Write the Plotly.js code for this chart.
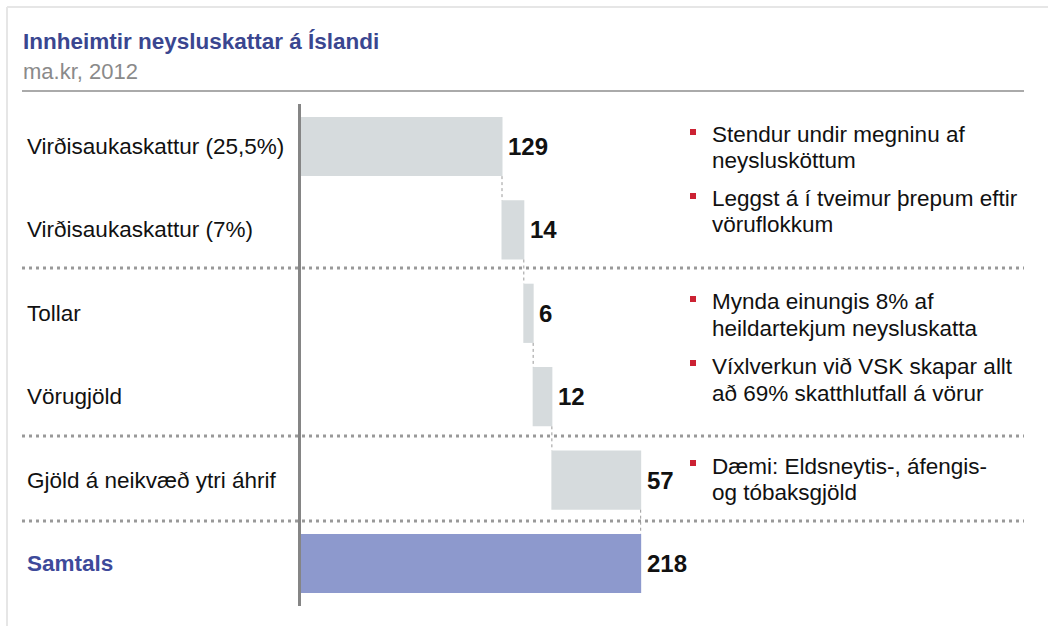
<!DOCTYPE html>
<html>
<head>
<meta charset="utf-8">
<script src="https://cdn.plot.ly/plotly-3.0.1.min.js"></script>
<style>
html,body{margin:0;padding:0;background:#fff;}
#chart{width:1048px;height:626px;}
</style>
</head>
<body>
<div id="chart"></div>
<script>
// ---- data ----
const categories = ["Virðisaukaskattur (25,5%)", "Virðisaukaskattur (7%)", "Tollar", "Vörugjöld", "Gjöld á neikvæð ytri áhrif", "Samtals"];
const values = [129, 14, 6, 12, 57, 218];
const measures = ["relative", "relative", "relative", "relative", "relative", "total"];
const titleText = "Innheimtir neysluskattar á Íslandi";
const subtitleText = "ma.kr, 2012";
const bulletTexts = [
  ["Stendur undir megninu af", "neyslusköttum"],
  ["Leggst á í tveimur þrepum eftir", "vöruflokkum"],
  ["Mynda einungis 8% af", "heildartekjum neysluskatta"],
  ["Víxlverkun við VSK skapar allt", "að 69% skatthlutfall á vörur"],
  ["Dæmi: Eldsneytis-, áfengis-", "og tóbaksgjöld"]
];

// ---- layout helpers (pixel -> paper) ----
const W = 1048, H = 626;
const px = x => x / W;
const py = y => 1 - y / H;
const FONT = "Liberation Sans, Arial, sans-serif";
const pxPerUnit = 201 / 129;
const zeroPx = 301;
const rowTop = 146.5, rowStep = 83.4;

// cumulative ends for labels
const ends = [];
let run = 0;
values.forEach((v, i) => {
  if (measures[i] === "total") { ends.push(run); } else { run += v; ends.push(run); }
});

const trace = {
  type: "waterfall",
  orientation: "h",
  y: categories,
  x: values,
  measure: measures,
  increasing: {marker: {color: "#d6dbdd", line: {width: 0}}},
  decreasing: {marker: {color: "#d6dbdd", line: {width: 0}}},
  totals: {marker: {color: "#8d99cd", line: {width: 0}}},
  connector: {mode: "between", line: {color: "#9a9a9a", width: 1, dash: "dot"}},
  textinfo: "none",
  hoverinfo: "skip"
};

const annotations = [];
// title / subtitle
annotations.push({xref: "paper", yref: "paper", x: px(21), y: py(41), xanchor: "left", yanchor: "middle",
  text: "<b>" + titleText + "</b>", showarrow: false, font: {family: FONT, size: 22.5, color: "#3a4690"}});
annotations.push({xref: "paper", yref: "paper", x: px(21), y: py(72), xanchor: "left", yanchor: "middle",
  text: subtitleText, showarrow: false, font: {family: FONT, size: 22, color: "#8a8a8a"}});
// category labels
categories.forEach((c, i) => {
  const isTotal = measures[i] === "total";
  annotations.push({xref: "paper", yref: "y", x: px(25), y: i, xanchor: "left", yanchor: "middle",
    text: isTotal ? "<b>" + c + "</b>" : c, showarrow: false,
    font: {family: FONT, size: 22.5, color: isTotal ? "#3d4a9a" : "#111111"}});
});
// value labels
values.forEach((v, i) => {
  annotations.push({xref: "x", yref: "y", x: ends[i], y: i, xanchor: "left", yanchor: "middle", xshift: 4,
    text: "<b>" + v + "</b>", showarrow: false, font: {family: FONT, size: 24, color: "#111111"}});
});
// bullets
const bulletLineY = [[135, 161], [199, 225], [302, 328], [366, 393], [466, 492]];
const shapes = [];
bulletTexts.forEach((lines, b) => {
  lines.forEach((t, l) => {
    annotations.push({xref: "paper", yref: "paper", x: px(710), y: py(bulletLineY[b][l]), xanchor: "left", yanchor: "middle",
      text: t, showarrow: false, font: {family: FONT, size: 22.5, color: "#111111"}});
  });
  const cy = bulletLineY[b][0] - 3;
  shapes.push({type: "rect", xref: "paper", yref: "paper", x0: px(690), x1: px(696), y0: py(cy - 3), y1: py(cy + 3),
    fillcolor: "#cc2233", line: {width: 0}});
});

// frame
shapes.push({type: "line", xref: "paper", yref: "paper", x0: px(7), x1: px(7), y0: py(7), y1: 0, line: {color: "#e6e6e6", width: 2}});
shapes.push({type: "line", xref: "paper", yref: "paper", x0: px(7), x1: 1, y0: py(7), y1: py(7), line: {color: "#e6e6e6", width: 2}});
// title rule
shapes.push({type: "line", xref: "paper", yref: "paper", x0: px(22), x1: px(1024), y0: py(91), y1: py(91), line: {color: "#aaaaaa", width: 2}});
// dotted separators
[268, 436, 521].forEach(y => {
  shapes.push({type: "line", xref: "paper", yref: "paper", x0: px(22), x1: px(1024), y0: py(y), y1: py(y),
    line: {color: "#999999", width: 3, dash: "3px,4px"}});
});
// vertical axis line
shapes.push({type: "line", xref: "paper", yref: "paper", x0: px(299.5), x1: px(299.5), y0: py(104), y1: py(606),
  line: {color: "#858585", width: 3}});

const layout = {
  width: W, height: H,
  margin: {l: 0, r: 0, t: 0, b: 0},
  paper_bgcolor: "#ffffff", plot_bgcolor: "#ffffff",
  showlegend: false,
  waterfallgap: 0.29,
  xaxis: {range: [-zeroPx / pxPerUnit, (W - zeroPx) / pxPerUnit], showgrid: false, zeroline: false,
    showticklabels: false, showline: false, ticks: "", fixedrange: true},
  yaxis: {type: "category", range: [(H - rowTop) / rowStep, -rowTop / rowStep], showgrid: false, zeroline: false,
    showticklabels: false, showline: false, ticks: "", fixedrange: true},
  annotations: annotations,
  shapes: shapes,
  font: {family: FONT}
};

Plotly.newPlot("chart", [trace], layout, {displayModeBar: false, staticPlot: true});
</script>
</body>
</html>
